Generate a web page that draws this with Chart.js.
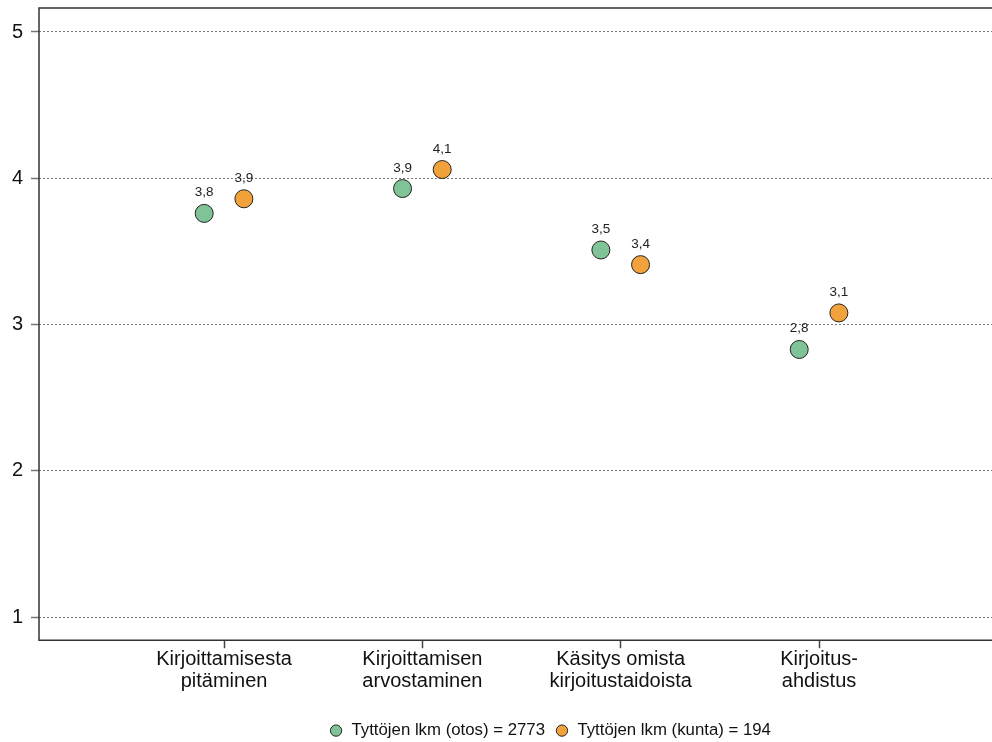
<!DOCTYPE html>
<html>
<head>
<meta charset="utf-8">
<script src="https://cdn.jsdelivr.net/npm/chart.js@4"></script>
<style>
  html, body { margin: 0; padding: 0; background: #fff; }
  #chart { display: block; }
</style>
</head>
<body>
<canvas id="chart" width="992" height="742"></canvas>
<script>
  const categories = [
    ["Kirjoittamisesta", "pitäminen"],
    ["Kirjoittamisen", "arvostaminen"],
    ["Käsitys omista", "kirjoitustaidoista"],
    ["Kirjoitus-", "ahdistus"],
  ];
  const sampleValues = [3.76, 3.93, 3.51, 2.83];
  const municipalityValues = [3.86, 4.06, 3.41, 3.08];
  const seriesNames = ["Tyttöjen lkm (otos) = 2773", "Tyttöjen lkm (kunta) = 194"];
  const yTicks = [1, 2, 3, 4, 5];

  const FONT = "'Liberation Sans', Arial, sans-serif";
  const OFFSET = 0.1; // horizontal dodge of the two series within a category

  function toPoints(values, shift) {
    return values.map((v, i) => ({ x: i + 1 + shift, y: v }));
  }

  function fmt(v) {
    return v.toFixed(1).replace(".", ",");
  }

  // plot box: top, left and bottom edges (right edge is cut off in the original)
  const frame = {
    id: "frame",
    afterDraw(chart) {
      const { ctx, chartArea: a } = chart;
      ctx.save();
      ctx.strokeStyle = "#333";
      ctx.lineWidth = 1.5;
      ctx.beginPath();
      ctx.moveTo(a.right, a.top);
      ctx.lineTo(a.left, a.top);
      ctx.lineTo(a.left, a.bottom);
      ctx.lineTo(a.right, a.bottom);
      ctx.stroke();
      ctx.restore();
    },
  };

  const valueLabels = {
    id: "valueLabels",
    afterDatasetsDraw(chart) {
      const ctx = chart.ctx;
      ctx.save();
      ctx.font = "13.5px " + FONT;
      ctx.fillStyle = "#222";
      ctx.textAlign = "center";
      ctx.textBaseline = "alphabetic";
      chart.data.datasets.forEach((ds, di) => {
        chart.getDatasetMeta(di).data.forEach((pt, i) => {
          ctx.fillText(fmt(ds.data[i].y), pt.x, pt.y - 17);
        });
      });
      ctx.restore();
    },
  };

  // legend in the original sits a bit right of the canvas centre
  const legendShift = {
    id: "legendShift",
    afterLayout(chart) {
      chart.legend.left += 54;
      chart.legend.right += 54;
    },
  };

  function noPadding(scale) {
    scale.paddingTop = 0;
    scale.paddingBottom = 0;
    scale.paddingLeft = 0;
    scale.paddingRight = 0;
  }

  new Chart(document.getElementById("chart"), {
    type: "scatter",
    data: {
      datasets: [
        {
          label: seriesNames[0],
          data: toPoints(sampleValues, -OFFSET),
          backgroundColor: "#7fc397",
          borderColor: "#222",
          borderWidth: 1,
          pointRadius: 9,
          pointStyle: "circle",
        },
        {
          label: seriesNames[1],
          data: toPoints(municipalityValues, OFFSET),
          backgroundColor: "#f1a23b",
          borderColor: "#222",
          borderWidth: 1,
          pointRadius: 9,
          pointStyle: "circle",
        },
      ],
    },
    options: {
      responsive: false,
      animation: false,
      layout: { autoPadding: false, padding: { top: 8, left: 0, right: 0, bottom: -7 } },
      scales: {
        x: {
          type: "linear",
          min: 0.067,
          max: 4.872,
          afterBuildTicks(scale) {
            scale.ticks = categories.map((c, i) => ({ value: i + 1 }));
          },
          afterFit(scale) {
            scale.height = 72;
            noPadding(scale);
          },
          border: { display: false },
          grid: {
            drawOnChartArea: false,
            drawTicks: true,
            tickLength: 8,
            tickColor: "#444",
            tickWidth: 1.5,
          },
          ticks: {
            padding: 0,
            maxRotation: 0,
            autoSkip: false,
            color: "#111",
            font: { family: FONT, size: 20, lineHeight: 1.1 },
            callback: (v) => categories[v - 1],
          },
        },
        y: {
          min: 0.843,
          max: 5.164,
          afterBuildTicks(scale) {
            scale.ticks = yTicks.map((v) => ({ value: v }));
          },
          afterFit(scale) {
            scale.width = 39;
            noPadding(scale);
          },
          border: { display: false, dash: [2, 2] },
          grid: {
            color: "#777",
            lineWidth: 1,
            drawTicks: true,
            tickLength: 8,
            tickColor: "#777",
            tickWidth: 1.5,
            tickBorderDash: [],
          },
          ticks: {
            padding: 8,
            color: "#111",
            font: { family: FONT, size: 20 },
          },
        },
      },
      plugins: {
        tooltip: { enabled: false },
        legend: {
          position: "bottom",
          labels: {
            usePointStyle: true,
            boxWidth: 14,
            boxHeight: 8,
            padding: 10,
            color: "#111",
            font: { family: FONT, size: 16.8 },
          },
        },
      },
    },
    plugins: [frame, valueLabels, legendShift],
  });
</script>
</body>
</html>
